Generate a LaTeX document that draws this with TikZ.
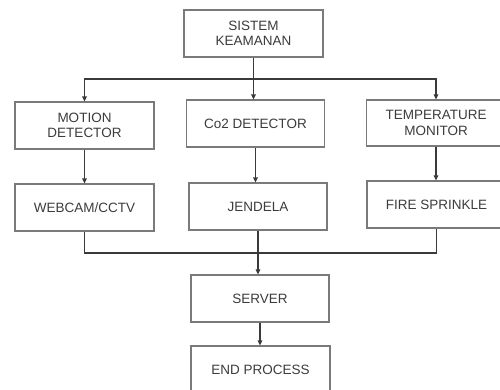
\documentclass[tikz,border=0pt]{standalone}
\usepackage{fontspec}
\setmainfont{Liberation Sans}
\usetikzlibrary{arrows.meta}
\definecolor{boxline}{HTML}{7A7A7A}
\definecolor{conn}{HTML}{3A3A3A}
\definecolor{txt}{HTML}{3C3C3C}
\begin{document}
\begin{tikzpicture}[x=1pt,y=-1pt,
  blk/.style={draw=boxline,line width=1.1pt,fill=white,minimum width=139pt,minimum height=47pt,
    inner sep=0pt,align=center,text=txt,font=\fontsize{13.5}{15.3}\selectfont},
  conline/.style={draw=conn,line width=1.1pt},
  arr/.style={conline,-{Triangle[length=5pt,width=4.5pt]}}]
\useasboundingbox (0,0) rectangle (500,389);
\node[blk] (top) at (253.5,33.5) {SISTEM\\KEAMANAN};
\node[blk] (motion) at (84.5,125.5) {MOTION\\DETECTOR};
\node[blk,minimum width=138pt] (co2) at (255.5,123.5) {Co2 DETECTOR};
\node[blk,minimum height=46pt] (temp) at (436,123) {TEMPERATURE\\MONITOR};
\node[blk] (webcam) at (84.5,207.5) {WEBCAM/CCTV};
\node[blk,minimum width=138pt] (jendela) at (258,206.5) {JENDELA};
\node[blk] (fire) at (436.5,204.5) {FIRE SPRINKLE};
\node[blk,minimum width=138pt] (server) at (260,298.5) {SERVER};
\node[blk] (endp) at (260.5,369.5) {END PROCESS};
\coordinate (b1) at (254,79);
\coordinate (b2) at (258,253);
\draw[arr] (top.south) -- (top.south |- co2.north);
\draw[arr] (b1) -| (motion.north);
\draw[arr] (b1) -| (temp.north);
\draw[arr] (motion.south) -- (webcam.north);
\draw[arr] (co2.south) -- (co2.south |- jendela.north);
\draw[arr] (temp.south) -- (temp.south |- fire.north);
\draw[conline] (webcam.south) |- (b2) -| (fire.south);
\draw[arr] (jendela.south) -- (jendela.south |- server.north);
\draw[arr] (server.south) -- (server.south |- endp.north);
\end{tikzpicture}
\end{document}
